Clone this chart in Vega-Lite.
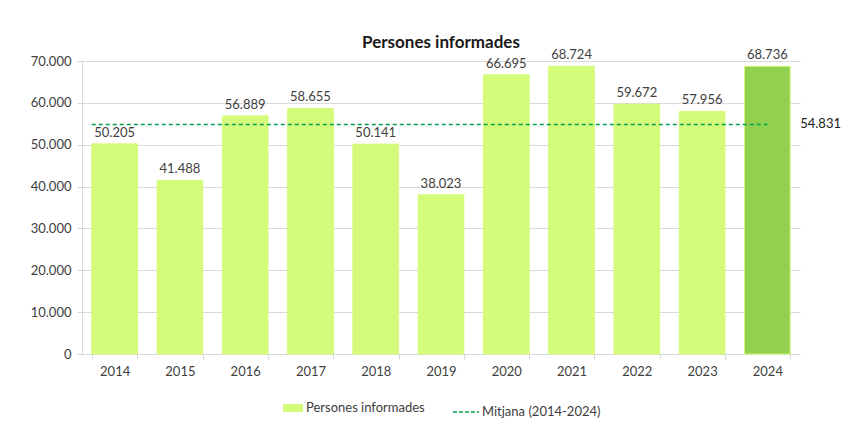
{
  "$schema": "https://vega.github.io/schema/vega-lite/v6.json",
  "width": 718,
  "height": 293,
  "autosize": {"type": "none"},
  "padding": {"left": 82, "top": 61, "right": 55, "bottom": 72},
  "background": "white",
  "config": {
    "locale": {"number": {"decimal": ",", "thousands": ".", "grouping": [3], "currency": ["", " €"]}},
    "font": "Lato",
    "view": {"stroke": null}
  },
  "title": {"text": "Persones informades", "fontSize": 17, "fontWeight": "bold", "color": "#1a1a1a", "frame": "group", "offset": -3},
  "datasets": {
    "anys": [
      {"any": "2014", "persones": 50205, "serie": "Persones informades"},
      {"any": "2015", "persones": 41488, "serie": "Persones informades"},
      {"any": "2016", "persones": 56889, "serie": "Persones informades"},
      {"any": "2017", "persones": 58655, "serie": "Persones informades"},
      {"any": "2018", "persones": 50141, "serie": "Persones informades"},
      {"any": "2019", "persones": 38023, "serie": "Persones informades"},
      {"any": "2020", "persones": 66695, "serie": "Persones informades"},
      {"any": "2021", "persones": 68724, "serie": "Persones informades"},
      {"any": "2022", "persones": 59672, "serie": "Persones informades"},
      {"any": "2023", "persones": 57956, "serie": "Persones informades"},
      {"any": "2024", "persones": 68736, "serie": "Persones informades"}
    ],
    "mitjana": [
      {"inici": "2014", "fi": "2024", "mitjana": 54831, "serie": "Mitjana (2014-2024)"}
    ]
  },
  "layer": [
    {
      "data": {"name": "anys"},
      "mark": {"type": "bar", "stroke": "#d5fb7b", "strokeWidth": 1},
      "encoding": {
        "x": {
          "field": "any", "type": "nominal",
          "scale": {"paddingInner": 0.3, "paddingOuter": 0.15},
          "axis": {"title": null, "labelAngle": 0, "domainColor": "#d9d9d9", "tickColor": "#d9d9d9", "tickBand": "extent", "tickSize": 5, "labelColor": "#404040", "labelFontSize": 13, "labelPadding": 6, "grid": false}
        },
        "y": {
          "field": "persones", "type": "quantitative",
          "scale": {"domain": [0, 70000]},
          "axis": {"title": null, "tickCount": 7, "format": ",d", "gridColor": "#d9d9d9", "domainColor": "#d9d9d9", "tickColor": "#d9d9d9", "tickSize": 5, "labelFontSize": 13, "labelColor": "#404040", "labelPadding": 6}
        },
        "fill": {
          "condition": {"test": "datum.any === '2024'", "value": "#92d050"},
          "field": "serie", "type": "nominal",
          "scale": {"range": ["#d5fb7b"]},
          "legend": {"title": null, "orient": "none", "legendX": 201, "legendY": 337, "direction": "horizontal", "symbolType": "M-1,-0.4H1V0.4H-1Z", "symbolSize": 400, "symbolStrokeWidth": 0, "labelFontSize": 13, "labelColor": "#404040", "labelOffset": 3}
        }
      }
    },
    {
      "data": {"name": "anys"},
      "mark": {"type": "text", "dy": -11, "fontSize": 13, "color": "#404040"},
      "encoding": {
        "x": {"field": "any", "type": "nominal"},
        "y": {"field": "persones", "type": "quantitative"},
        "text": {"field": "persones", "type": "quantitative", "format": ",d"}
      }
    },
    {
      "data": {"name": "mitjana"},
      "mark": {"type": "rule", "strokeDash": [4, 3], "strokeWidth": 1.5},
      "encoding": {
        "x": {"field": "inici", "type": "nominal", "bandPosition": 0},
        "x2": {"field": "fi", "bandPosition": 0.5},
        "y": {"field": "mitjana", "type": "quantitative"},
        "stroke": {
          "field": "serie", "type": "nominal",
          "scale": {"range": ["#00a050"]},
          "legend": {"title": null, "orient": "none", "legendX": 370, "legendY": 337, "direction": "horizontal", "symbolType": "stroke", "symbolDash": [4, 2], "symbolStrokeWidth": 1.5, "symbolSize": 680, "labelFontSize": 13, "labelColor": "#404040", "labelOffset": 2}
        }
      }
    },
    {
      "data": {"name": "mitjana"},
      "mark": {"type": "text", "align": "left", "dx": 10, "fontSize": 13, "color": "#1a1a1a"},
      "encoding": {
        "x": {"field": "fi", "type": "nominal", "bandPosition": 1},
        "y": {"field": "mitjana", "type": "quantitative"},
        "text": {"field": "mitjana", "type": "quantitative", "format": ",d"}
      }
    }
  ]
}
